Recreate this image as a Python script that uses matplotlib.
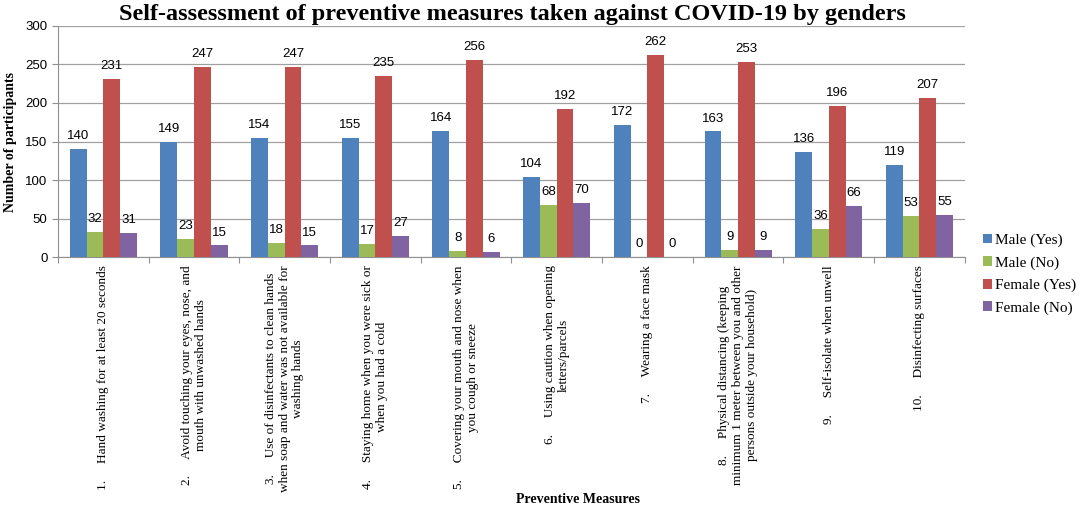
import numpy as np
import matplotlib.pyplot as plt

measures = [
    "1.     Hand washing for at least 20 seconds",
    "2.     Avoid touching your eyes, nose, and\nmouth with unwashed hands",
    "3.     Use of disinfectants to clean hands\nwhen soap and water was not available for\nwashing hands",
    "4.     Staying home when you were sick or\nwhen you had a cold",
    "5.     Covering your mouth and nose when\nyou cough or sneeze",
    "6.     Using caution when opening\nletters/parcels",
    "7.     Wearing a face mask",
    "8.     Physical distancing (keeping\nminimum 1 meter between you and other\npersons outside your household)",
    "9.     Self-isolate when unwell",
    "10.     Disinfecting surfaces",
]
male_yes = [140, 149, 154, 155, 164, 104, 172, 163, 136, 119]
male_no = [32, 23, 18, 17, 8, 68, 0, 9, 36, 53]
female_yes = [231, 247, 247, 235, 256, 192, 262, 253, 196, 207]
female_no = [31, 15, 15, 27, 6, 70, 0, 9, 66, 55]
series_names = ["Male (Yes)", "Male (No)", "Female (Yes)", "Female (No)"]
colours = ["#4F81BD", "#9BBB59", "#C0504D", "#8064A2"]

serif = "Liberation Serif"
sans = "Liberation Sans"

fig = plt.figure(figsize=(10.84, 5.09), dpi=100)
ax = fig.add_axes([0.0535, 0.495, 0.8365, 0.454])

x = np.arange(len(measures))
w = 0.185
data = [male_yes, male_no, female_yes, female_no]
for i, (vals, name, col) in enumerate(zip(data, series_names, colours)):
    pos = x + (i - 1.5) * w
    ax.bar(pos, vals, width=w, color=col, label=name, zorder=3)
    for px, v in zip(pos, vals):
        ax.annotate(str(v), (px, v), xytext=(0, 5), textcoords="offset points",
                    ha="center", va="bottom", fontsize=9.5, family=sans)

ax.set_xlim(-0.5, len(measures) - 0.5)
ax.set_ylim(0, 300)
ax.set_yticks(np.arange(0, 301, 50))
ax.yaxis.grid(True, color="#a0a0a0", linewidth=0.9, zorder=0)
for s in ["top", "right"]:
    ax.spines[s].set_visible(False)
for s in ["left", "bottom"]:
    ax.spines[s].set_color("#909090")
ax.tick_params(axis="y", colors="#909090", labelcolor="black", length=4, labelsize=9.5)
for t in ax.get_yticklabels():
    t.set_family(sans)

# category labels between tick marks
ax.set_xticks(np.arange(-0.5, len(measures), 1.0))
ax.set_xticklabels([])
ax.tick_params(axis="x", colors="#909090", length=4)
ax.set_xticks(x, minor=True)
ax.set_xticklabels(measures, minor=True, rotation=90, va="top", ha="center",
                   multialignment="center", family=serif, fontsize=9.5)
ax.tick_params(axis="x", which="minor", length=0, pad=6)

ax.set_ylabel("Number of participants", family=serif, fontweight="bold", fontsize=10, labelpad=6)
fig.text(0.533, 0.018, "Preventive Measures", family=serif, fontweight="bold",
         fontsize=10, ha="center", va="center")
fig.text(0.473, 0.972, "Self-assessment of preventive measures taken against COVID-19 by genders",
         family=serif, fontweight="bold", fontsize=17.5, ha="center", va="center")

leg = ax.legend(loc="center left", bbox_to_anchor=(1.02, -0.074), frameon=False,
                borderaxespad=0, borderpad=0,
                prop={"family": serif, "size": 11}, handlelength=0.6, handleheight=0.6,
                handletextpad=0.2, labelspacing=0.6)

fig.savefig("out.png", dpi=100)
